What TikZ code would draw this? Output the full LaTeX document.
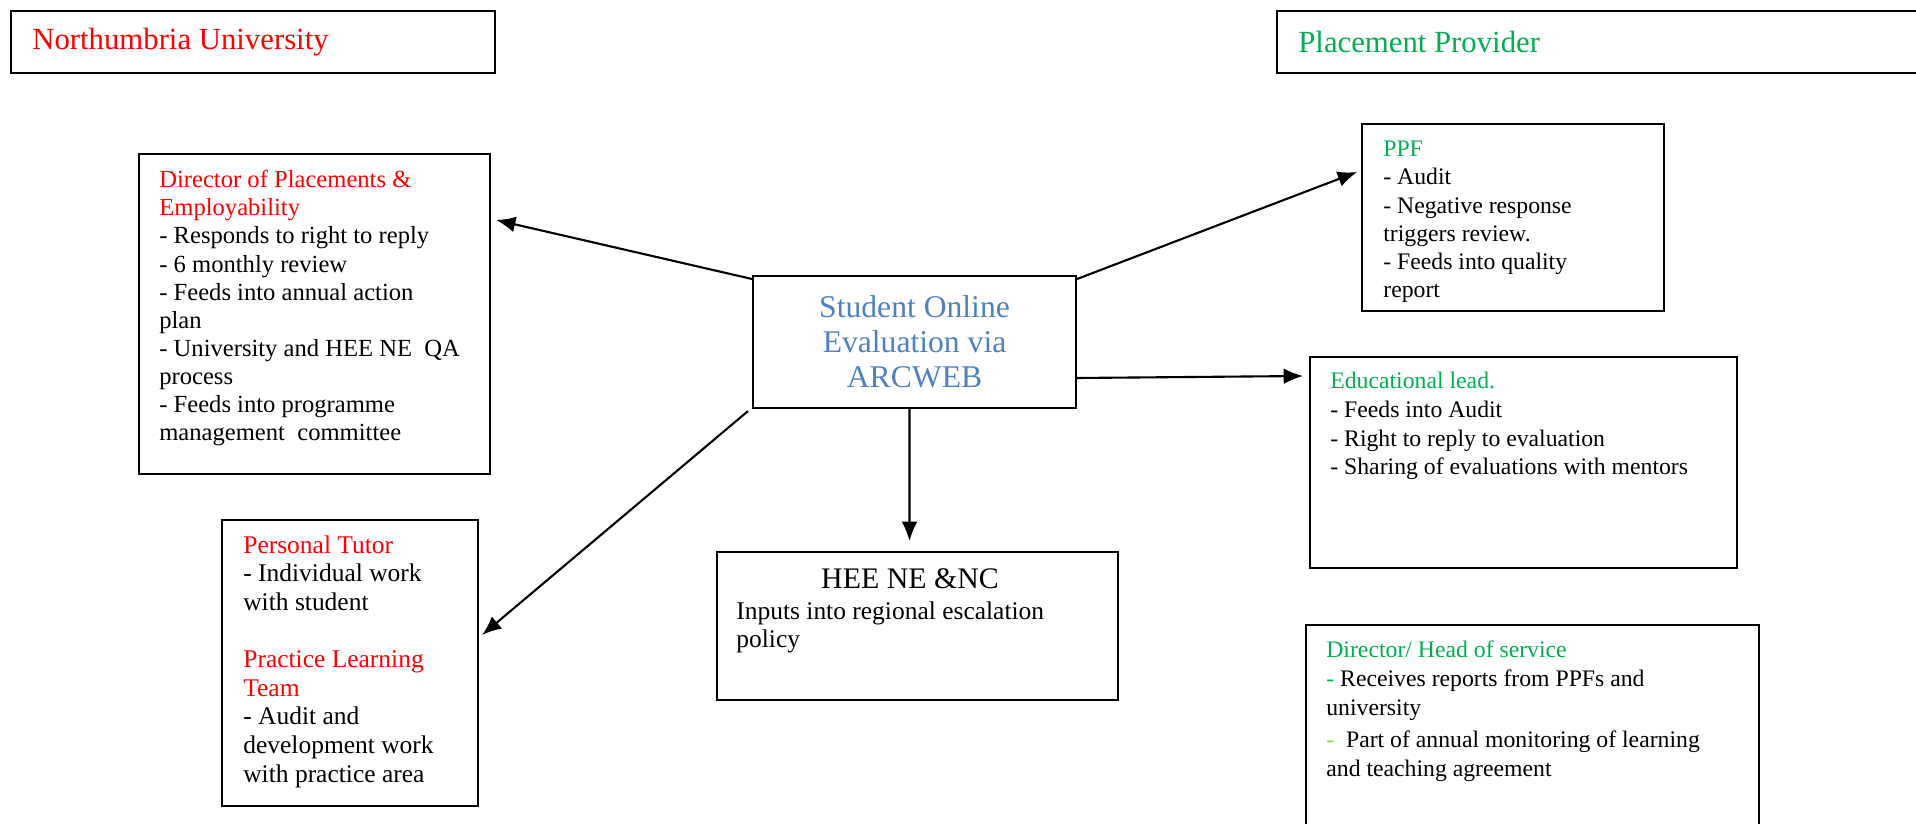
\documentclass[tikz,border=0pt]{standalone}
\usepackage{fontspec}
\setmainfont{Liberation Serif}
\usetikzlibrary{calc,arrows.meta,positioning}
\definecolor{nured}{RGB}{255,0,0}
\definecolor{ppgreen}{RGB}{0,176,80}
\definecolor{palegreen}{RGB}{146,208,80}
\definecolor{arcblue}{RGB}{79,129,189}
\tikzset{panel/.style={draw, line width=1.2pt, rectangle, anchor=north west, inner sep=0pt},
  body/.style={anchor=north west, align=left, inner sep=0pt, font=\fontsize{13.5}{16}\selectfont},
  link/.style={line width=1.2pt, -{Latex[length=11pt,width=9pt]}}}

\begin{document}
\begin{tikzpicture}[x=0.02cm, y=-0.02cm]
    \useasboundingbox (0,0) rectangle (1916,824);
    % headers
    \node[panel, minimum width=9.68cm, minimum height=1.24cm] (uni) at (10,10) {};
    \node[body, anchor=west, text=nured, font=\fontsize{17.5}{20}\selectfont] (uni-title) at ($(uni.west)+(22,0)$) {Northumbria University};
    \node[panel, minimum width=13.08cm, minimum height=1.24cm] (prov) at (1276,10) {};
    \node[body, anchor=west, text=ppgreen, font=\fontsize{17.5}{20}\selectfont] (prov-title) at ($(prov.west)+(22,0)$) {Placement Provider};
    % centre
    \node[panel, minimum width=6.46cm, minimum height=2.64cm, align=center, text=arcblue, font=\fontsize{18}{20}\selectfont] (stu) at (752,275) {Student Online\\Evaluation via\\ARCWEB};
    % university side
    \node[panel, minimum width=7.02cm, minimum height=6.40cm] (dir) at (138,153) {};
    \node[body, font=\fontsize{14}{16}\selectfont] (dir-text) at ($(dir.north west)+(21,17)$) {\textcolor{nured}{Director of Placements \&}\\\textcolor{nured}{Employability}\\- Responds to right to reply\\- 6 monthly review\\- Feeds into annual action\\plan\\- University and HEE NE~~QA\\process\\- Feeds into programme\\management~~committee};
    \node[panel, minimum width=5.12cm, minimum height=5.72cm] (tut) at (221,519) {};
    \node[body, font=\fontsize{14.5}{16.3}\selectfont] (tut-text) at ($(tut.north west)+(22,16)$) {\textcolor{nured}{Personal Tutor}\\- Individual work\\with student\\[16.3pt]\textcolor{nured}{Practice Learning}\\\textcolor{nured}{Team}\\- Audit and\\development work\\with practice area};
    \node[panel, minimum width=8.02cm, minimum height=2.96cm] (hee) at (716,551) {};
    \node[body, anchor=north, font=\fontsize{17}{20}\selectfont] (hee-title) at (910,568) {HEE NE \&NC};
    \node[body, font=\fontsize{14.5}{16.3}\selectfont] (hee-text) at ($(hee.north west)+(20,50)$) {Inputs into regional escalation\\policy};
    % placement side
    \node[panel, minimum width=6.04cm, minimum height=3.74cm] (ppf) at (1361,123) {};
    \node[body] (ppf-text) at ($(ppf.north west)+(22,18)$) {\textcolor{ppgreen}{PPF}\\- Audit\\- Negative response\\triggers review.\\- Feeds into quality\\report};
    \node[panel, minimum width=8.54cm, minimum height=4.22cm] (edu) at (1309,356) {};
    \node[body, font=\fontsize{13.5}{16.3}\selectfont] (edu-text) at ($(edu.north west)+(21,16)$) {\textcolor{ppgreen}{Educational lead.}\\- Feeds into Audit\\- Right to reply to evaluation\\- Sharing of evaluations with mentors};
    \node[panel, minimum width=9.06cm, minimum height=4.32cm] (head) at (1305,624) {};
    \node[body, font=\fontsize{13.5}{16.5}\selectfont] (head-text) at ($(head.north west)+(21,16)$) {\textcolor{ppgreen}{Director/ Head of service}\\\textcolor{ppgreen}{-} Receives reports from PPFs and\\university\\[2pt]\textcolor{palegreen}{-}~~Part of annual monitoring of learning\\and teaching agreement};
    % links
    \draw[link] ($(stu.north west)+(0,4)$) -- ($(dir.north east)+(5,67)$);
    \draw[link] ($(stu.north east)+(0,4)$) -- ($(ppf.north west)+(-4,49)$);
    \draw[link] ($(stu.north east)+(0,103)$) -- ($(edu.north west)+(-6,20)$);
    \draw[link] ($(stu.south)+(-5,0)$) -- ($(hee.north)+(-8,-10)$);
    \draw[link] ($(stu.south west)+(-4,2)$) -- ($(tut.north east)+(3,116)$);
\end{tikzpicture}
\end{document}
